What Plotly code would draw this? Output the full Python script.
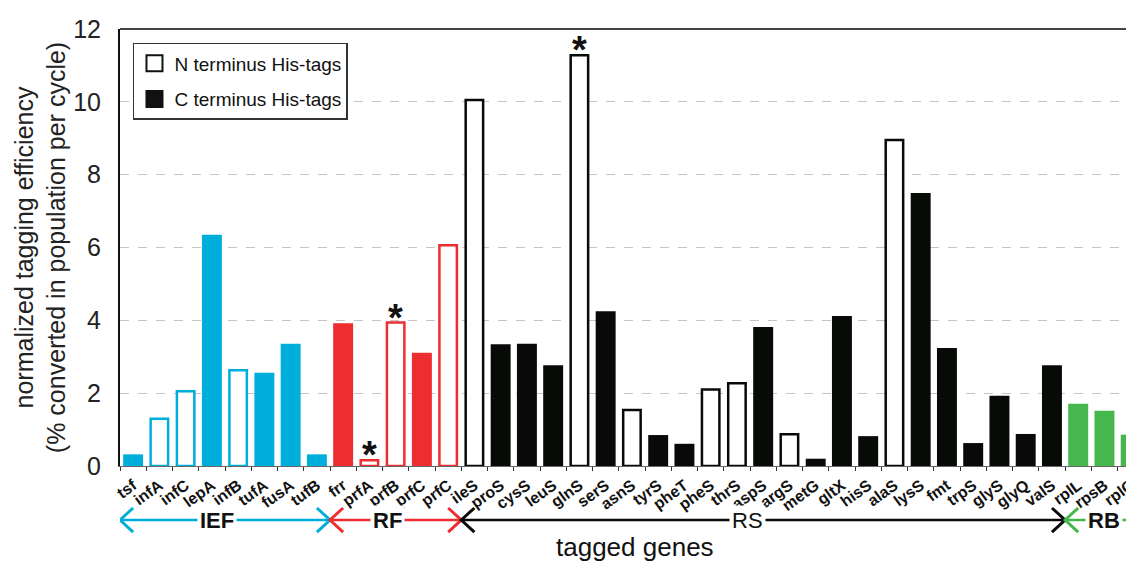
import plotly.graph_objects as go

# ---------------- data ----------------
genes = ["tsf", "infA", "infC", "lepA", "infB", "tufA", "fusA", "tufB",
         "frr", "prfA", "prfB", "prfC", "prfC",
         "ileS", "proS", "cysS", "leuS", "glnS", "serS", "asnS", "tyrS", "pheT",
         "pheS", "thrS", "aspS", "argS", "metG", "gltX", "hisS", "alaS", "lysS",
         "fmt", "trpS", "glyS", "glyQ", "valS",
         "rplL", "rpsB", "rplC"]
efficiency = [0.32, 1.30, 2.05, 6.35, 2.63, 2.56, 3.36, 0.32,
              3.92, 0.16, 3.94, 3.11, 6.06,
              10.05, 3.34, 3.36, 2.77, 11.28, 4.25, 1.54, 0.85, 0.61,
              2.10, 2.27, 3.82, 0.87, 0.20, 4.12, 0.82, 8.95, 7.50,
              3.24, 0.63, 1.93, 0.88, 2.77,
              1.71, 1.52, 0.86]
terminus = ["C", "N", "N", "C", "N", "C", "C", "C",
            "C", "N", "N", "C", "N",
            "N", "C", "C", "C", "N", "C", "N", "C", "C",
            "N", "N", "C", "N", "C", "C", "C", "N", "C",
            "C", "C", "C", "C", "C",
            "C", "C", "C"]
gene_group = ["IEF"] * 8 + ["RF"] * 5 + ["RS"] * 23 + ["RB"] * 3
starred = [False] * 9 + [True, True] + [False] * 6 + [True] + [False] * 21
groups = ["IEF", "RF", "RS", "RB"]
legend_names = {"N": "N terminus His-tags", "C": "C terminus His-tags"}

# ---------------- style ----------------
FONT = "Liberation Sans, Arial, sans-serif"
group_colors = {"IEF": "#00AEDB", "RF": "#EE2D31", "RS": "#080A08", "RB": "#45B74D"}
group_label_weight = {"IEF": "bold", "RF": "bold", "RS": "normal", "RB": "bold"}
group_label_shift = {"IEF": -0.3, "RF": -0.3, "RS": -0.6, "RB": 0.0}
X_MAX = 38.43
ARROW_Y = -0.1236
CHEV_DX = 0.5
CHEV_DY = 0.0275

fig = go.Figure()

# bars
for g in groups:
    for t in ["C", "N"]:
        idx = [i for i in range(len(genes)) if gene_group[i] == g and terminus[i] == t]
        if not idx:
            continue
        ys = [efficiency[i] for i in idx]
        col = group_colors[g]
        if t == "C":
            fig.add_trace(go.Bar(x=idx, y=ys, width=0.76, showlegend=False,
                                 marker=dict(color=col, line=dict(width=0)),
                                 hovertext=[genes[i] for i in idx]))
        else:
            fig.add_trace(go.Bar(x=idx, y=ys, width=0.665, showlegend=False,
                                 marker=dict(color="white", line=dict(color=col, width=2.5)),
                                 hovertext=[genes[i] for i in idx]))

# legend entries
for t, fill in [("N", "white"), ("C", "#111111")]:
    fig.add_trace(go.Scatter(x=[None], y=[None], mode="markers", name=legend_names[t],
                             legendgroup=t,
                             marker=dict(symbol="square", size=16, color=fill,
                                         line=dict(color="#111111", width=2))))

# asterisks
for i, s in enumerate(starred):
    if s:
        fig.add_annotation(x=i, y=efficiency[i], xref="x", yref="y", text="*",
                           showarrow=False, yanchor="bottom", yshift=-18,
                           font=dict(family=FONT, size=38, color="#111111", weight="bold"))

# group arrows
shapes = []
for g in groups:
    idx = [i for i in range(len(genes)) if gene_group[i] == g]
    x0, x1 = idx[0] - 0.5, idx[-1] + 0.5
    col = group_colors[g]
    shapes.append(dict(type="line", xref="x", yref="paper", x0=x0, x1=x1, y0=ARROW_Y, y1=ARROW_Y,
                       line=dict(color=col, width=2.5)))
    shapes.append(dict(type="path", xref="x", yref="paper",
                       path=f"M {x0 + CHEV_DX},{ARROW_Y + CHEV_DY} L {x0},{ARROW_Y} L {x0 + CHEV_DX},{ARROW_Y - CHEV_DY}",
                       line=dict(color=col, width=3)))
    shapes.append(dict(type="path", xref="x", yref="paper",
                       path=f"M {x1 - CHEV_DX},{ARROW_Y + CHEV_DY} L {x1},{ARROW_Y} L {x1 - CHEV_DX},{ARROW_Y - CHEV_DY}",
                       line=dict(color=col, width=3)))
    fig.add_annotation(x=(x0 + x1) / 2 + group_label_shift[g], y=ARROW_Y, xref="x", yref="paper",
                       xanchor="center", yanchor="middle",
                       text=g, showarrow=False, bgcolor="white", borderpad=2,
                       font=dict(family=FONT, size=22, color="#111111", weight=group_label_weight[g]))

# top frame line
shapes.append(dict(type="line", xref="paper", yref="paper", x0=0, x1=1, y0=1, y1=1,
                   line=dict(color="#444444", width=2)))

fig.add_annotation(x=0.504, y=-0.186, xref="paper", yref="paper", text="tagged genes",
                   showarrow=False, xanchor="center", yanchor="middle",
                   font=dict(family=FONT, size=26, color="#111111"))

# page body has an 8px offset, so margins are set relative to that
fig.update_layout(
    width=1134, height=562,
    margin=dict(l=112, r=0, t=21, b=104, autoexpand=False),
    paper_bgcolor="white", plot_bgcolor="white",
    barmode="overlay",
    shapes=shapes,
    font=dict(family=FONT, color="#111111"),
    legend=dict(x=0.0127, y=0.968, xanchor="left", yanchor="top",
                bordercolor="#333333", borderwidth=1.5, bgcolor="white",
                traceorder="grouped", tracegroupgap=8,
                font=dict(family=FONT, size=19, color="#111111")),
    xaxis=dict(range=[-0.5, X_MAX], tickmode="array", tickvals=list(range(len(genes))),
               ticktext=genes, tickangle=-36, showgrid=False, zeroline=False, automargin=False,
               tickfont=dict(family=FONT, size=16, color="#111111", weight="bold"),
               ticklabelstandoff=3,
               showline=True, linecolor="#666666", linewidth=1, ticks="",
               minor=dict(tick0=0.5, dtick=1, ticks="outside", ticklen=4,
                          tickcolor="#333333", showgrid=False)),
    yaxis=dict(range=[0, 12], dtick=2, showgrid=True, gridcolor="#c4c4c4", griddash="dash",
               gridwidth=1, zeroline=False, showline=True, linecolor="#111111", linewidth=2,
               ticks="", ticklabelstandoff=12, automargin=False,
               tickfont=dict(family=FONT, size=25, color="#222222"),
               title=dict(text="normalized tagging efficiency<br>(% converted in population per cycle)",
                          font=dict(family=FONT, size=25, color="#222222"), standoff=0)),
)

fig.write_html("out.html")
